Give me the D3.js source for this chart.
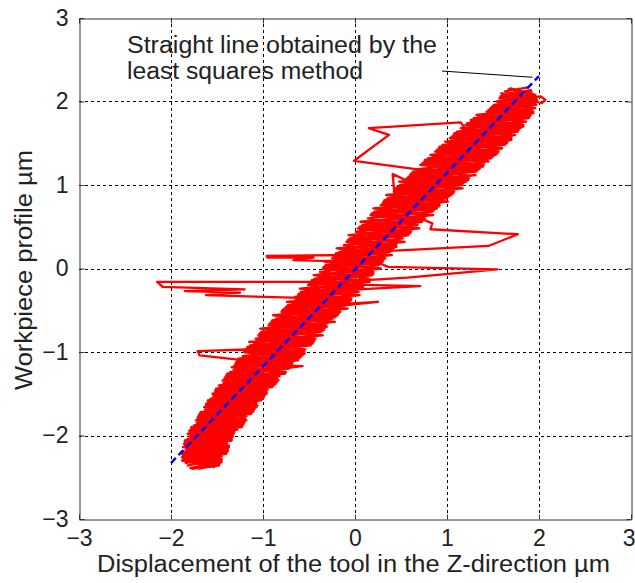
<!DOCTYPE html>
<html>
<head>
<meta charset="utf-8">
<script src="https://cdn.jsdelivr.net/npm/d3@7"></script>
<style>
  body { margin: 0; background: #fff; }
  svg { display: block; }
</style>
</head>
<body>
<script>
// Axis ticks and their printed labels
const tickValues = [-3, -2, -1, 0, 1, 2, 3];
const tickLabels = ["−3", "−2", "−1", "0", "1", "2", "3"];

// Least-squares fit line (end points)
const fitX = [-2, 2];
const fitY = [-2.33, 2.305];

// Measured trace: tool displacement (x, µm) vs workpiece profile (y, µm), recorded in sweeps
const sweepA = [
  [-1.83,-2.36],[-1.45,-2.28],[-1.87,-2.20],[-1.37,-2.12],[-1.82,-2.04],[-1.31,-1.96],[-1.75,-1.88],[-1.19,-1.80],
  [-1.68,-1.72],[-1.06,-1.64],[-1.57,-1.56],[-0.96,-1.48],[-1.48,-1.40],[-0.84,-1.32],[-1.36,-1.24],[-0.68,-1.16],
  [-1.27,-1.08],[-0.55,-1.00],[-1.14,-0.92],[-0.43,-0.84],[-1.02,-0.76],[-0.31,-0.68],[-0.86,-0.60],[-0.16,-0.52],
  [-0.73,-0.44],[-0.04,-0.36],[-0.59,-0.28],[0.09,-0.20],[-0.44,-0.12],[0.20,-0.04],[-0.32,0.04],[0.33,0.12],
  [-0.17,0.20],[0.45,0.28],[-0.06,0.36],[0.61,0.44],[0.08,0.52],[0.76,0.60],[0.21,0.68],[0.92,0.76],
  [0.35,0.84],[1.08,0.92],[0.49,1.00],[1.24,1.08],[0.63,1.16],[1.40,1.24],[0.79,1.32],[1.56,1.40],
  [0.95,1.48],[1.70,1.56],[1.11,1.64],[1.83,1.72],[1.29,1.80],[1.94,1.88],[1.51,1.96],[1.97,2.04],
  [1.63,2.12],[1.88,2.17]
];
const sweepB = [
  [1.90,2.05],[2.02,2.06],[2.07,2.02],[2.03,1.98],[1.96,2.00],
  [1.60,2.08],[1.97,2.00],[1.47,1.92],[1.91,1.84],[1.26,1.76],[1.80,1.68],[1.07,1.60],[1.66,1.52],
  [0.91,1.44],[1.53,1.36],[0.75,1.28],[1.36,1.20],[0.60,1.12],[1.20,1.04],[0.45,0.96],[1.04,0.88],
  [0.32,0.80],[0.88,0.72],[0.18,0.64],[0.72,0.56],[0.04,0.48],[0.57,0.40],[-0.09,0.32],[0.41,0.24],
  [-0.22,0.16],[0.29,0.08],[-0.34,0.00],[0.18,-0.08],[-0.48,-0.16],[0.06,-0.24],[-0.62,-0.32],[-0.06,-0.40],
  [-0.77,-0.48],[-0.19,-0.56],[-0.91,-0.64],[-0.33,-0.72],[-1.05,-0.80],[-0.45,-0.88],[-1.18,-0.96],[-0.57,-1.04],
  [-1.29,-1.12],[-0.72,-1.20],[-1.40,-1.28],[-0.85,-1.36],[-1.51,-1.44],[-0.98,-1.52],[-1.60,-1.60],[-1.09,-1.68],
  [-1.70,-1.76],[-1.20,-1.84],[-1.78,-1.92],[-1.33,-2.00],[-1.85,-2.08],[-1.38,-2.16],[-1.87,-2.24],[-1.45,-2.32],
  [-1.80,-2.39]
];
const sweepC = [
  [-1.52,-2.38],[-1.88,-2.30],[-1.40,-2.22],[-1.87,-2.14],[-1.34,-2.06],[-1.82,-1.98],[-1.23,-1.90],[-1.73,-1.82],
  [-1.13,-1.74],[-1.64,-1.66],[-1.02,-1.58],[-1.55,-1.50],[-0.90,-1.42],[-1.44,-1.34],[-0.76,-1.26],[-1.34,-1.18],
  [-0.62,-1.10],
  [-1.20,-1.10],[-1.69,-1.04],[-1.71,-0.99],[-1.18,-0.97],
  [-0.55,-1.02],[-1.15,-0.94],[-0.44,-0.86],[-1.03,-0.78],[-0.31,-0.70],[-0.89,-0.62],[-0.18,-0.54],[-0.75,-0.46],
  [-0.05,-0.38],
  [-0.52,-0.34],[-0.68,-0.35],[-1.62,-0.32],[-1.25,-0.29],[-1.85,-0.27],[-1.20,-0.25],[-2.09,-0.22],[-2.15,-0.16],
  [-0.46,-0.16],
  [0.19,-0.08],[-0.35,0.00],[0.30,0.08],
  [-0.24,0.16],[-0.96,0.15],[-0.95,0.13],[-0.45,0.13],[-0.67,0.10],[-0.25,0.09],
  [0.42,0.24],[-0.09,0.32],[0.58,0.40],[0.03,0.48],[0.73,0.56],[0.17,0.64],[0.89,0.72],[0.31,0.80],
  [1.05,0.88],[0.44,0.96],
  [0.43,0.87],[0.41,1.13],[0.55,1.06],
  [1.21,1.04],[0.66,1.19],[-0.01,1.29],[0.37,1.60],[0.15,1.68],[1.15,1.75],
  [1.45,1.28],[0.82,1.36],[1.60,1.44],[0.98,1.52],[1.74,1.60],[1.15,1.68],[1.86,1.76],[1.32,1.84],
  [1.96,1.92],[1.54,2.00],[1.96,2.08],[1.68,2.16]
];
const sweepD = [
  [1.92,2.14],[1.58,2.06],[1.96,1.98],[1.45,1.90],[1.90,1.82],[1.22,1.74],[1.78,1.66],[1.05,1.58],
  [1.65,1.50],[0.89,1.42],[1.50,1.34],[0.73,1.26],[1.34,1.18],[0.58,1.10],[1.18,1.02],[0.43,0.94],
  [1.02,0.86],[0.30,0.78],[0.86,0.70],
  [0.67,0.62],[0.84,0.54],[0.82,0.47],[1.77,0.41],[1.45,0.27],[0.38,0.21],
  [-0.23,0.14],[0.27,0.06],[0.36,0.02],[1.55,-0.01],[0.57,-0.11],[-0.50,-0.18],[0.71,-0.21],[0.04,-0.25],
  [-0.65,-0.34],[-0.08,-0.42],[0.25,-0.40],[-0.12,-0.44],[-0.79,-0.50],[-0.21,-0.58],[-0.93,-0.66],[-0.34,-0.74],
  [-1.04,-0.82],[-0.46,-0.90],[-1.19,-0.98],[-0.59,-1.06],[-1.30,-1.14],[-0.57,-1.17],[-0.80,-1.20],
  [-1.41,-1.30],[-0.86,-1.38],[-1.52,-1.46],[-0.99,-1.54],[-1.62,-1.62],[-1.10,-1.70],[-1.71,-1.78],[-1.21,-1.86],
  [-1.80,-1.94],[-1.33,-2.02],[-1.86,-2.10],[-1.38,-2.18],[-1.88,-2.26],[-1.47,-2.34],[-1.70,-2.40]
];
const sweepE = [
  [-1.85,-2.33],[-1.45,-2.25],[-1.84,-2.17],[-1.39,-2.09],[-1.80,-2.01],[-1.28,-1.93],[-1.72,-1.85],[-1.18,-1.77],
  [-1.63,-1.69],[-1.07,-1.61],[-1.54,-1.53],[-0.95,-1.45],[-1.43,-1.37],[-0.82,-1.29],[-1.32,-1.21],[-0.68,-1.13],
  [-1.22,-1.05],[-0.54,-0.97],[-1.10,-0.89],[-0.43,-0.81],[-0.96,-0.73],[-0.30,-0.65],[-0.82,-0.57],[-0.16,-0.49],
  [-0.68,-0.41],[-0.03,-0.33],[-0.54,-0.25],[0.09,-0.17],[-0.39,-0.09],[0.20,-0.01],[-0.26,0.07],[0.32,0.15],
  [-0.14,0.23],[0.46,0.31],[-0.01,0.39],[0.62,0.47],[0.12,0.55],[0.77,0.63],[0.26,0.71],[0.93,0.79],
  [0.40,0.87],[1.09,0.95],[0.54,1.03],[1.25,1.11],[0.68,1.19],[1.41,1.27],[0.84,1.35],[1.57,1.43],
  [1.00,1.51],[1.71,1.59],[1.17,1.67],[1.82,1.75],[1.34,1.83],[1.93,1.91],[1.57,1.99],[1.94,2.07],
  [1.66,2.15]
];
const sweepF = [
  [1.93,2.12],[1.57,2.04],[1.97,1.96],[1.43,1.88],[1.89,1.80],[1.20,1.72],[1.77,1.64],[1.03,1.56],
  [1.63,1.48],[0.87,1.40],[1.48,1.32],[0.71,1.24],[1.32,1.16],[0.56,1.08],[1.16,1.00],[0.42,0.92],
  [1.00,0.84],[0.28,0.76],[0.84,0.68],[0.14,0.60],[0.68,0.52],[0.01,0.44],[0.52,0.36],[-0.12,0.28],
  [0.38,0.20],[-0.25,0.12],[0.26,0.04],[-0.38,-0.04],[0.15,-0.12],[-0.51,-0.20],[0.04,-0.28],[-0.65,-0.36],
  [-0.10,-0.44],[-0.80,-0.52],[-0.24,-0.60],[-0.94,-0.68],[-0.37,-0.76],[-1.08,-0.84],[-0.48,-0.92],[-1.21,-1.00],
  [-0.61,-1.08],[-1.31,-1.16],[-0.75,-1.24],[-1.42,-1.32],[-0.88,-1.40],[-1.52,-1.48],[-1.00,-1.56],[-1.62,-1.64],
  [-1.11,-1.72],[-1.71,-1.80],[-1.22,-1.88],[-1.80,-1.96],[-1.34,-2.04],[-1.85,-2.12],[-1.39,-2.20],[-1.87,-2.28],
  [-1.48,-2.36],[-1.78,-2.40]
];
const sweepG = [
  [-1.44,-2.30],[-1.88,-2.22],[-1.37,-2.14],[-1.85,-2.06],[-1.32,-1.98],[-1.78,-1.90],[-1.18,-1.82],[-1.69,-1.74],
  [-1.07,-1.66],[-1.60,-1.58],[-0.96,-1.50],[-1.47,-1.42],[-0.83,-1.34],[-1.39,-1.26],[-0.69,-1.18],[-1.28,-1.10],
  [-0.55,-1.02],[-1.17,-0.94],[-0.45,-0.86],[-1.04,-0.78],[-0.31,-0.70],[-0.90,-0.62],[-0.18,-0.54],[-0.75,-0.46],
  [-0.04,-0.38],[-0.61,-0.30],[0.09,-0.22],[-0.47,-0.14],[0.20,-0.06],[-0.34,0.02],[0.31,0.10],[-0.21,0.18],
  [0.45,0.26],[-0.08,0.34],[0.60,0.42],[0.05,0.50],[0.75,0.58],[0.18,0.66],[0.91,0.74],[0.32,0.82],
  [1.07,0.90],[0.46,0.98],[1.23,1.06],[0.61,1.14],[1.39,1.22],[0.76,1.30],[1.55,1.38],[0.92,1.46],
  [1.70,1.54],[1.08,1.62],[1.83,1.70],[1.26,1.78],[1.94,1.86],[1.49,1.94],[1.98,2.02],[1.58,2.10]
];
const sweepH = [
  [-1.16,-0.88],[-0.35,-0.80],[-1.03,-0.72],[-0.22,-0.64],[-0.89,-0.56],[-0.08,-0.48],[-0.74,-0.40],[0.05,-0.32],
  [-0.60,-0.24],[0.16,-0.16],[-0.45,-0.08],[0.28,0.00],[-0.33,0.08],[0.40,0.16],[-0.20,0.24],[0.54,0.32],
  [-0.07,0.40],[0.70,0.48],[0.06,0.56],[0.85,0.64],[0.20,0.72],[1.01,0.80],[0.34,0.88],[1.17,0.96],
  [0.48,1.04],[1.32,1.12]
];
const sweeps = [sweepA, sweepB, sweepC, sweepD, sweepE, sweepF, sweepG, sweepH];

// Annotation text and its leader line (data coordinates)
const noteLines = ["Straight line obtained by the", "least squares method"];
const leaderX = [0.946, 1.93];
const leaderY = [2.365, 2.29];

const xTitle = "Displacement of the tool in the Z-direction µm";
const yTitle = "Workpiece profile  µm";

// ---- layout ----
const W = 635, H = 583;
const plot = { left: 79, right: 631, top: 18, bottom: 519 };
const FONT = "'Liberation Sans', Arial, sans-serif";
const ink = "#222";

const svg = d3.select("body").append("svg")
  .attr("width", W).attr("height", H)
  .style("font-family", FONT);

const x = d3.scaleLinear().domain([-3, 3]).range([plot.left, plot.right]);
const y = d3.scaleLinear().domain([-3, 3]).range([plot.bottom, plot.top]);
const fmt = v => tickLabels[tickValues.indexOf(v)];

// dashed grid
const inner = tickValues.slice(1, -1);
const grid = svg.append("g").attr("stroke", "#000").attr("stroke-width", 1)
  .attr("stroke-dasharray", "3,3");
grid.selectAll("line.v").data(inner).join("line").attr("class", "v")
  .attr("x1", d => Math.round(x(d)) + 0.5).attr("x2", d => Math.round(x(d)) + 0.5)
  .attr("y1", plot.top).attr("y2", plot.bottom);
grid.selectAll("line.h").data(inner).join("line").attr("class", "h")
  .attr("y1", d => Math.round(y(d)) + 0.5).attr("y2", d => Math.round(y(d)) + 0.5)
  .attr("x1", plot.left).attr("x2", plot.right);

// measured trace
const line = d3.line().x(d => x(d[0])).y(d => y(d[1]));
svg.append("g").selectAll("path").data(sweeps).join("path")
  .attr("d", line)
  .attr("fill", "none")
  .attr("stroke", "#ff0000")
  .attr("stroke-width", 2.3)
  .attr("stroke-linejoin", "round");

// least-squares line
svg.append("path")
  .attr("d", line(fitX.map((v, i) => [v, fitY[i]])))
  .attr("fill", "none")
  .attr("stroke", "#0000ff")
  .attr("stroke-width", 2.5)
  .attr("stroke-dasharray", "7,4");

// axes: frame with short inward ticks, labels on bottom and left
function styleAxis(g) {
  g.selectAll(".domain").attr("stroke", "#333");
  g.selectAll(".tick line").attr("stroke", "#333");
  g.selectAll("text").attr("fill", ink).style("font-family", FONT).style("font-size", "23px");
}
const xAxisG = svg.append("g").attr("transform", `translate(0,${plot.bottom + 0.5})`)
  .call(d3.axisBottom(x).tickValues(tickValues).tickFormat(fmt).tickSizeInner(-5).tickSizeOuter(0).tickPadding(10))
  .call(styleAxis);
// keep the last label inside the page edge
xAxisG.selectAll(".tick").filter(d => d === 3).select("text")
  .attr("text-anchor", "end").attr("x", 4);
svg.append("g").attr("transform", `translate(0,${plot.top + 0.5})`)
  .call(d3.axisTop(x).tickValues(tickValues).tickFormat("").tickSizeInner(-5).tickSizeOuter(0))
  .call(styleAxis);
svg.append("g").attr("transform", `translate(${plot.left + 0.5},0)`)
  .call(d3.axisLeft(y).tickValues(tickValues).tickFormat(fmt).tickSizeInner(-5).tickSizeOuter(0).tickPadding(11))
  .call(styleAxis);
svg.append("g").attr("transform", `translate(${plot.right + 0.5},0)`)
  .call(d3.axisRight(y).tickValues(tickValues).tickFormat("").tickSizeInner(-5).tickSizeOuter(0))
  .call(styleAxis);

// axis titles
svg.append("text")
  .attr("x", 97).attr("y", 572)
  .attr("textLength", 513).attr("lengthAdjust", "spacingAndGlyphs")
  .attr("fill", ink).style("font-size", "23px")
  .text(xTitle);
svg.append("text")
  .attr("transform", "translate(32,390) rotate(-90)")
  .attr("textLength", 240).attr("lengthAdjust", "spacingAndGlyphs")
  .attr("fill", ink).style("font-size", "23px")
  .text(yTitle);

// annotation with leader line
svg.append("line")
  .attr("x1", x(leaderX[0])).attr("y1", y(leaderY[0]))
  .attr("x2", x(leaderX[1])).attr("y2", y(leaderY[1]))
  .attr("stroke", "#000").attr("stroke-width", 1);
const noteLen = [310, 236];
svg.selectAll("text.note").data(noteLines).join("text").attr("class", "note")
  .attr("x", 127).attr("y", (d, i) => 53 + i * 26)
  .attr("textLength", (d, i) => noteLen[i]).attr("lengthAdjust", "spacingAndGlyphs")
  .attr("fill", ink).style("font-size", "23px")
  .text(d => d);
</script>
</body>
</html>
